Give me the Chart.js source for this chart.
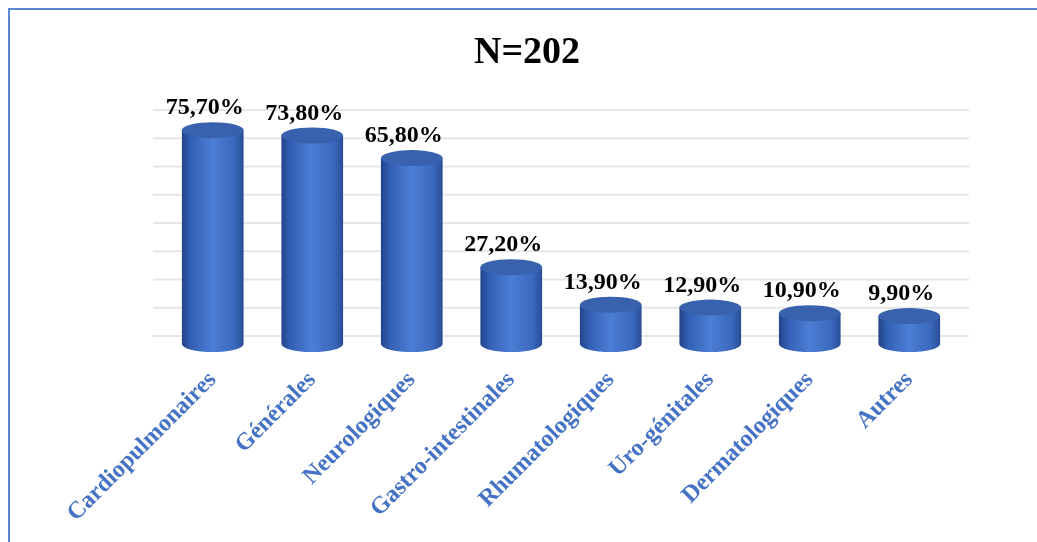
<!DOCTYPE html>
<html>
<head>
<meta charset="utf-8">
<script src="https://cdn.jsdelivr.net/npm/chart.js@4.4.0/dist/chart.umd.min.js"></script>
<style>
  html, body { margin: 0; padding: 0; background: #fff; }
  #wrap { position: relative; width: 1037px; height: 542px; }
  #cadre { position: absolute; left: 8px; top: 8px; width: 1040px; height: 560px;
           border-left: 2px solid #5b86d1; border-top: 2px solid #5b86d1; }
  canvas { position: absolute; left: 0; top: 0; }
</style>
</head>
<body>
<div id="wrap">
  <div id="cadre"></div>
  <canvas id="myChart" width="1037" height="542"></canvas>
</div>
<script>
// Donnees
const titre = "N=202"
const categories = ["Cardiopulmonaires", "Générales", "Neurologiques", "Gastro-intestinales",
                    "Rhumatologiques", "Uro-génitales", "Dermatologiques", "Autres"]
const pourcentages = [75.7, 73.8, 65.8, 27.2, 13.9, 12.9, 10.9, 9.9]
const etiquettes = ["75,70%", "73,80%", "65,80%", "27,20%", "13,90%", "12,90%", "10,90%", "9,90%"]
const graduations = [0, 10, 20, 30, 40, 50, 60, 70, 80]

const serif = "'Liberation Serif', 'Times New Roman', serif"
const largeurBarre = 0.62

function degrade(ctx, cx, rx) {
    const g = ctx.createLinearGradient(cx - rx, 0, cx + rx, 0)
    g.addColorStop(0, "#22448a")
    g.addColorStop(0.15, "#3360b4")
    g.addColorStop(0.5, "#4c7ed5")
    g.addColorStop(0.85, "#3a68bc")
    g.addColorStop(1, "#284d96")
    return g
}

// Mur du fond : lignes de grille decalees vers le haut (effet 3D)
const grilleFond = {
    id: "grilleFond",
    beforeDatasetsDraw(chart) {
        const ctx = chart.ctx
        const y = chart.scales.y
        const area = chart.chartArea
        ctx.save()
        ctx.strokeStyle = "#e6e6e6"
        ctx.lineWidth = 2
        for (const v of graduations) {
            const py = y.getPixelForValue(v) - 8
            ctx.beginPath()
            ctx.moveTo(area.left - 10, py)
            ctx.lineTo(area.right + 10, py)
            ctx.stroke()
        }
        ctx.restore()
    }
}

// Cylindres : fond arrondi, couvercle, valeurs et titre
const cylindres = {
    id: "cylindres",
    afterDatasetsDraw(chart) {
        const ctx = chart.ctx
        const meta = chart.getDatasetMeta(0)
        ctx.save()
        meta.data.forEach((barre, i) => {
            const rx = barre.width / 2
            const ry = 8
            // fond
            ctx.fillStyle = degrade(ctx, barre.x, rx)
            ctx.beginPath()
            ctx.ellipse(barre.x, barre.base, rx, ry, 0, 0, Math.PI)
            ctx.fill()
            // couvercle
            ctx.fillStyle = "#3862ae"
            ctx.beginPath()
            ctx.ellipse(barre.x, barre.y, rx, ry, 0, 0, Math.PI * 2)
            ctx.fill()
            // valeur
            ctx.fillStyle = "#000"
            ctx.font = "bold 24px " + serif
            ctx.textAlign = "center"
            ctx.textBaseline = "alphabetic"
            ctx.fillText(etiquettes[i], barre.x - 8, barre.y - 16)
        })
        // titre
        ctx.font = "bold 38px " + serif
        ctx.textAlign = "center"
        ctx.fillText(titre, 527, 63)
        ctx.restore()
    }
}

const config = {
    type: "bar",
    data: {
        labels: categories,
        datasets: [{
            data: pourcentages,
            backgroundColor: (context) => {
                const chart = context.chart
                const x = chart.scales.x
                if (!x || !x.width) return "#3f6fc4"
                const cx = x.getPixelForValue(context.dataIndex)
                const rx = x.width / categories.length * largeurBarre / 2
                return degrade(chart.ctx, cx, rx)
            },
            borderWidth: 0,
            barPercentage: largeurBarre,
            categoryPercentage: 1
        }]
    },
    options: {
        responsive: false,
        animation: false,
        layout: { padding: { left: 163, right: 78, top: 118, bottom: 0 } },
        plugins: {
            legend: { display: false },
            tooltip: { enabled: false },
            title: { display: false }
        },
        scales: {
            x: {
                grid: { display: false },
                border: { display: false },
                afterFit: (scale) => { scale.height = 198 },
                ticks: {
                    color: "#4472c4",
                    font: { family: serif, size: 24, weight: "bold" },
                    minRotation: 45,
                    maxRotation: 45,
                    padding: 14
                }
            },
            y: {
                display: false,
                min: 0,
                max: 80
            }
        }
    },
    plugins: [grilleFond, cylindres]
}

const myChart = new Chart(document.querySelector("#myChart").getContext("2d"), config)
</script>
</body>
</html>
